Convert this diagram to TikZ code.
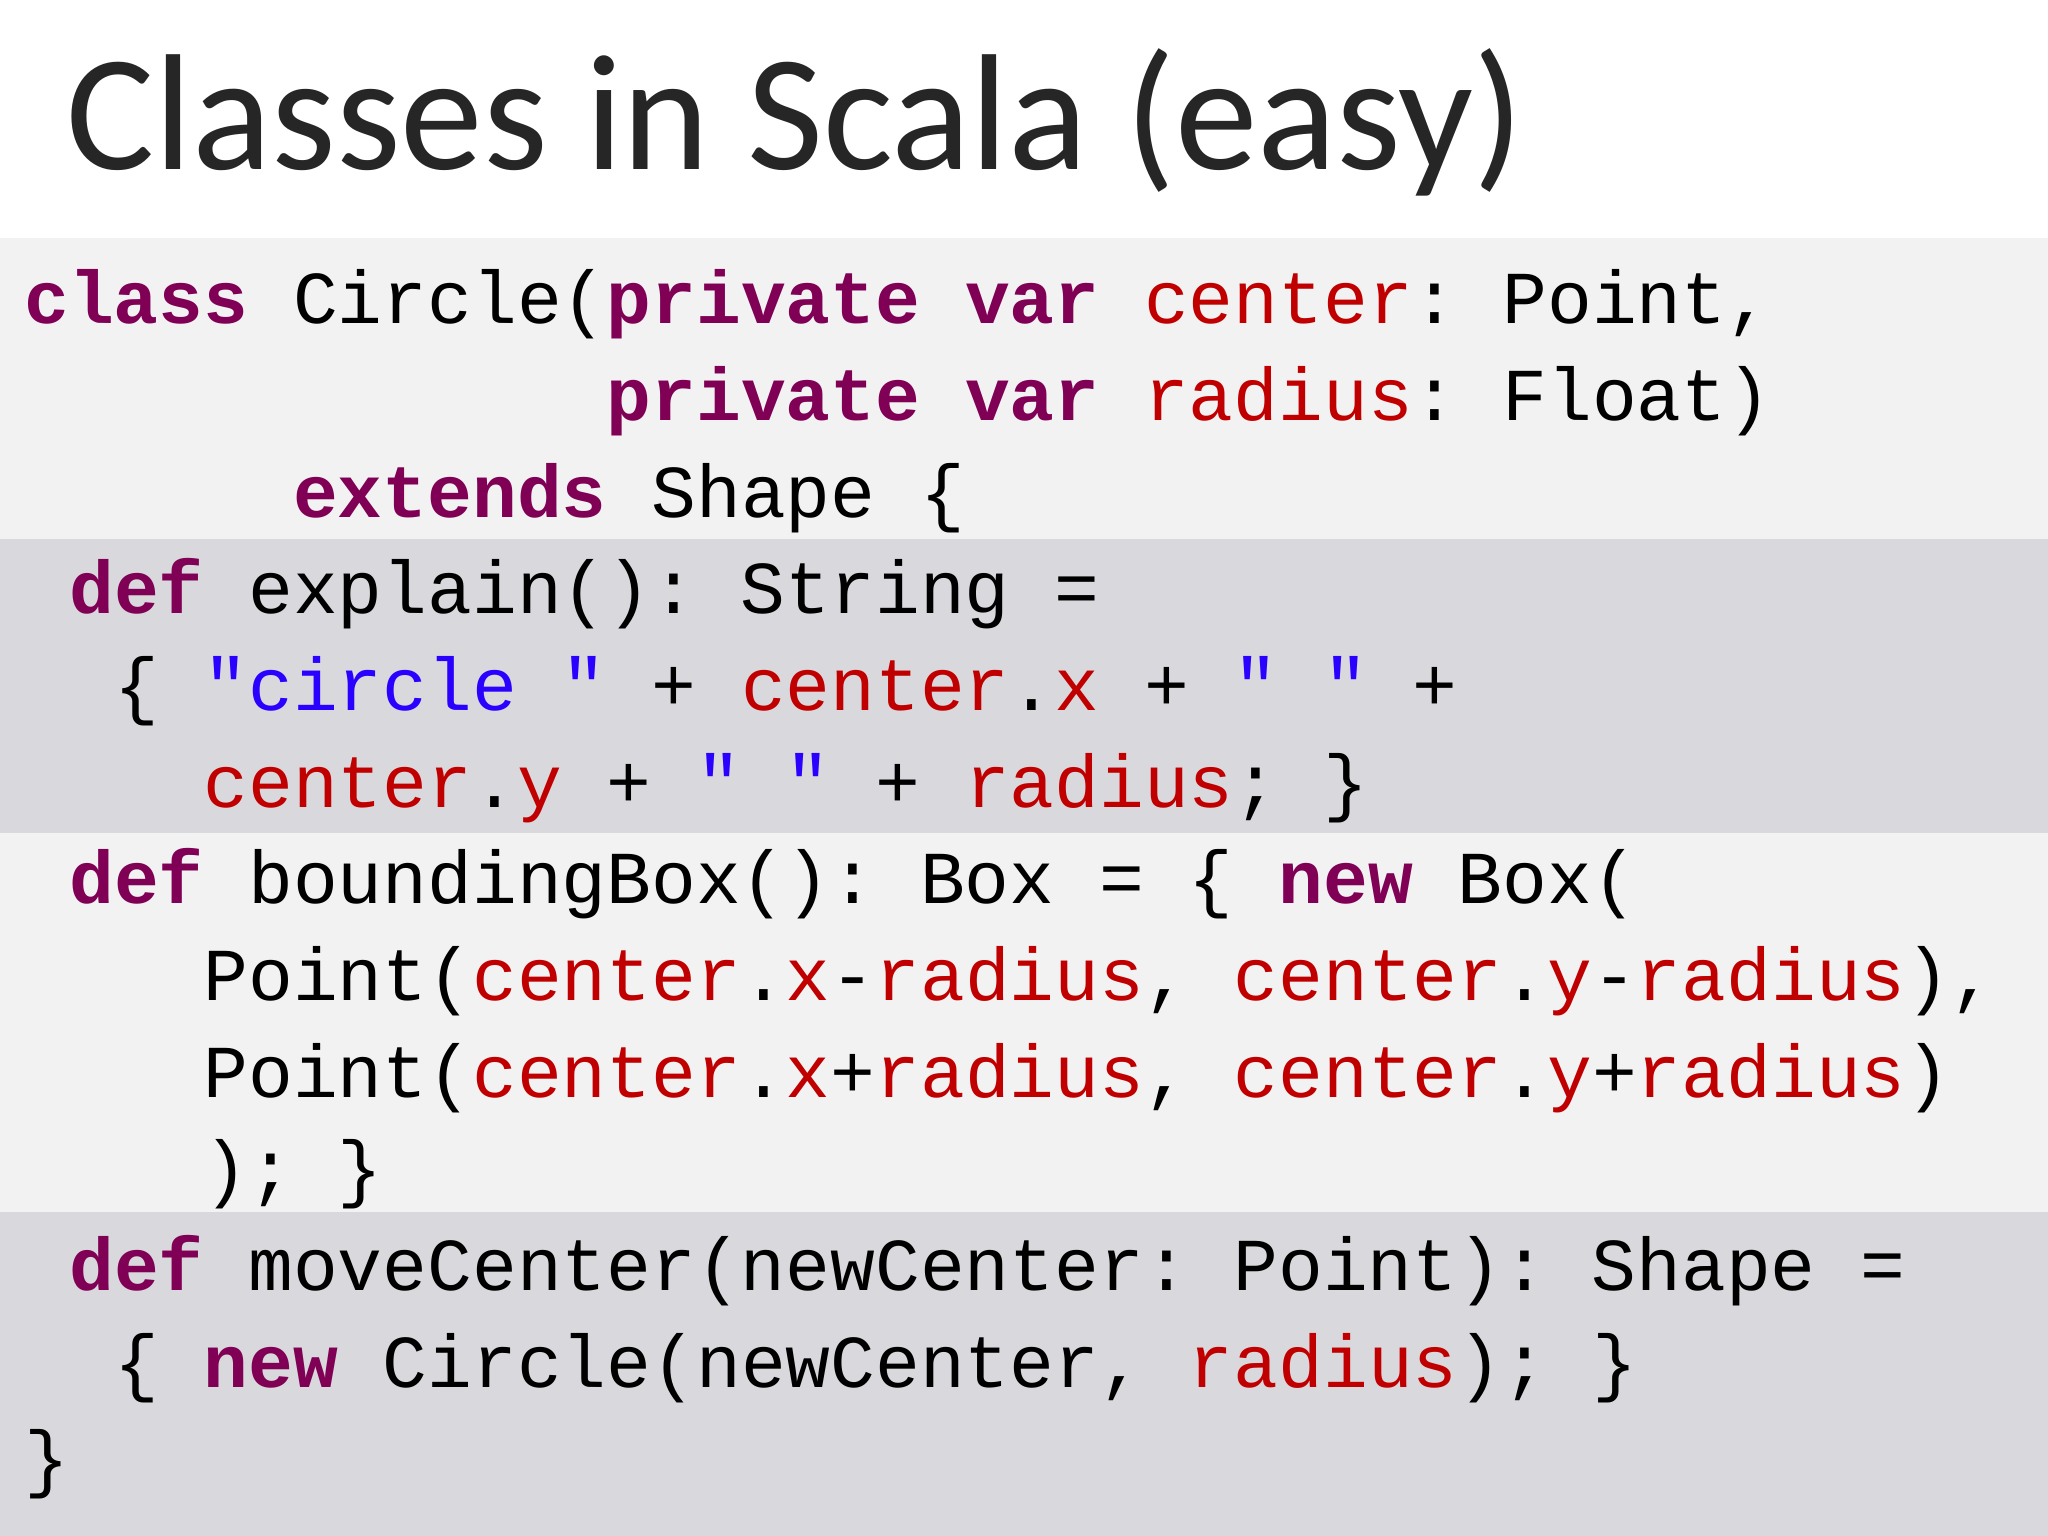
\documentclass[tikz,border=0pt]{standalone}
\usepackage{fontspec}
\setmainfont{Carlito}
\setmonofont{Liberation Mono}
\definecolor{kw}{HTML}{7F0055}
\definecolor{fld}{HTML}{C00000}
\definecolor{str}{HTML}{2A00FF}
\definecolor{bgl}{HTML}{F2F2F2}
\definecolor{bgd}{HTML}{D9D8DC}
\newcommand{\K}[1]{\textcolor{kw}{\bfseries #1}}
\newcommand{\F}[1]{\textcolor{fld}{#1}}
\newcommand{\Sq}[1]{\textcolor{str}{#1}}
\begin{document}
\begin{tikzpicture}[x=0.01cm,y=-0.01cm,
  code/.style={anchor=base west,inner sep=0pt,font=\ttfamily\fontsize{16.25}{20}\selectfont}]
\useasboundingbox (0,0) rectangle (1568,1176);
\fill[white] (0,0) rectangle (1568,182);
\fill[bgl] (0,182) rectangle (1568,413);
\fill[bgd] (0,413) rectangle (1568,638);
\fill[bgl] (0,638) rectangle (1568,928);
\fill[bgd] (0,928) rectangle (1568,1176);
\node[anchor=base west,inner sep=0pt,text=black!85,font=\fontsize{36}{40}\selectfont] (title) at (50,130) {Classes in Scala (easy)};
\node[code] (l1) at (18,248) {\K{class}~Circle(\K{private}~\K{var}~\F{center}:~Point,};
\node[code] (l2) at (18,322) {~~~~~~~~~~~~~\K{private}~\K{var}~\F{radius}:~Float)};
\node[code] (l3) at (18,396) {~~~~~~\K{extends}~Shape~\{};
\node[code] (l4) at (18,470) {~\K{def}~explain():~String~=};
\node[code] (l5) at (18,544) {~~\{~\Sq{"circle~"}~+~\F{center}.\F{x}~+~\Sq{"~"}~+};
\node[code] (l6) at (18,618) {~~~~\F{center}.\F{y}~+~\Sq{"~"}~+~\F{radius};~\}};
\node[code] (l7) at (18,692) {~\K{def}~boundingBox():~Box~=~\{~\K{new}~Box(};
\node[code] (l8) at (18,766) {~~~~Point(\F{center}.\F{x}-\F{radius},~\F{center}.\F{y}-\F{radius}),};
\node[code] (l9) at (18,840) {~~~~Point(\F{center}.\F{x}+\F{radius},~\F{center}.\F{y}+\F{radius})};
\node[code] (l10) at (18,914) {~~~~);~\}};
\node[code] (l11) at (18,988) {~\K{def}~moveCenter(newCenter:~Point):~Shape~=};
\node[code] (l12) at (18,1062) {~~\{~\K{new}~Circle(newCenter,~\F{radius});~\}};
\node[code] (l13) at (18,1136) {\}};
\end{tikzpicture}
\end{document}
